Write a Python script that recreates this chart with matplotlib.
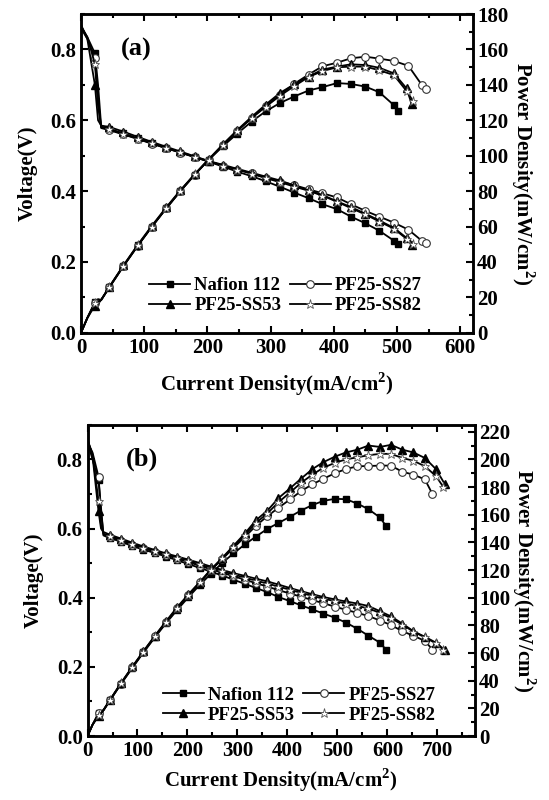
import numpy as np
import matplotlib
matplotlib.use("Agg")
import matplotlib.pyplot as plt
from matplotlib.ticker import MultipleLocator

plt.rcParams['font.family'] = ['Liberation Serif', 'DejaVu Serif']
plt.rcParams['font.weight'] = 'bold'
plt.rcParams['axes.labelweight'] = 'bold'
plt.rcParams['mathtext.fontset'] = 'custom'
plt.rcParams['mathtext.rm'] = 'Liberation Serif:bold'
plt.rcParams['mathtext.bf'] = 'Liberation Serif:bold'

# ---- panel (a) data: current density (mA/cm2), voltage (V), power (mW/cm2)
ia_base = [0, 10, 22, 27, 32, 45, 67, 90, 112, 135, 157, 180, 202, 225, 247,
           270, 292, 315, 337, 360, 382, 405, 427, 450, 472, 495]

a_nafion_i = ia_base + [502]
a_nafion_v = [0.865, 0.835, 0.789, 0.700, 0.582, 0.576, 0.563, 0.549, 0.535,
              0.521, 0.509, 0.496, 0.483, 0.469, 0.455, 0.442, 0.428, 0.412,
              0.396, 0.380, 0.363, 0.349, 0.328, 0.309, 0.288, 0.260, 0.250]
a_nafion_p = [0, 8.4, 17.3, 19.0, 18.6, 25.9, 37.7, 49.4, 59.9, 70.3, 79.9,
              89.3, 97.6, 105.5, 112.4, 119.3, 125.0, 129.8, 133.4, 136.8,
              138.7, 141.0, 140.5, 139.0, 135.8, 128.5, 125.5]

a_ss27_i = ia_base + [518, 539, 545]
a_ss27_v = [0.860, 0.830, 0.775, 0.660, 0.578, 0.572, 0.560, 0.547, 0.534,
            0.521, 0.509, 0.496, 0.484, 0.472, 0.461, 0.450, 0.438, 0.427,
            0.417, 0.405, 0.394, 0.382, 0.363, 0.344, 0.328, 0.311, 0.291,
            0.260, 0.253]
a_ss27_p = [0, 8.3, 17.0, 17.8, 18.5, 25.7, 37.5, 49.2, 59.8, 70.3, 79.9,
            89.3, 97.8, 106.2, 113.9, 121.5, 127.9, 134.5, 140.5, 145.8,
            150.5, 152.5, 155.0, 155.9, 154.8, 153.5, 150.7, 140.0, 137.8]

a_ss53_i = ia_base + [515, 523]
a_ss53_v = [0.870, 0.830, 0.700, 0.600, 0.585, 0.581, 0.568, 0.553, 0.539,
            0.525, 0.512, 0.498, 0.485, 0.474, 0.463, 0.452, 0.441, 0.430,
            0.416, 0.402, 0.389, 0.371, 0.355, 0.336, 0.317, 0.296, 0.268,
            0.247]
a_ss53_p = [0, 8.3, 15.4, 16.2, 18.7, 26.1, 38.0, 49.8, 60.4, 70.9, 80.4,
            89.6, 98.0, 106.6, 114.4, 122.0, 128.8, 135.5, 140.2, 144.7,
            148.6, 150.3, 151.6, 151.2, 149.6, 146.5, 138.0, 129.2]

a_ss82_i = ia_base + [515, 525]
a_ss82_v = [0.865, 0.835, 0.760, 0.640, 0.580, 0.574, 0.561, 0.548, 0.535,
            0.522, 0.510, 0.497, 0.484, 0.472, 0.461, 0.449, 0.437, 0.425,
            0.413, 0.401, 0.387, 0.370, 0.352, 0.334, 0.314, 0.294, 0.265,
            0.250]
a_ss82_p = [0, 8.4, 16.7, 17.3, 18.6, 25.8, 37.6, 49.3, 59.9, 70.5, 80.1,
            89.5, 97.8, 106.2, 113.9, 121.2, 127.6, 133.9, 139.2, 144.4,
            147.8, 149.9, 150.3, 150.3, 148.2, 145.5, 136.5, 131.0]

# ---- panel (b) data
ib_base = [0, 10, 22, 27, 32, 45, 67, 90, 112, 135, 157, 180, 202, 225, 247,
           270, 292, 315, 337, 360, 382, 405, 427, 450, 472, 495, 517, 540,
           562, 585]

b_nafion_i = ib_base + [597]
b_nafion_v = [0.850, 0.800, 0.740, 0.660, 0.580, 0.572, 0.562, 0.549, 0.539,
              0.529, 0.519, 0.508, 0.497, 0.486, 0.475, 0.464, 0.452, 0.440,
              0.428, 0.416, 0.402, 0.390, 0.378, 0.366, 0.354, 0.342, 0.328,
              0.310, 0.290, 0.270, 0.250]
b_nafion_p = [0, 8.0, 16.3, 17.8, 18.6, 25.7, 37.6, 49.4, 60.4, 71.4, 81.5,
              91.4, 100.4, 109.4, 117.3, 125.3, 132.0, 138.6, 144.2, 149.8,
              154.0, 158.5, 163.0, 167.0, 170.0, 171.5, 171.2, 168.0, 164.0,
              158.0, 152.0]

b_ss27_i = ib_base + [607, 630, 652, 675, 690]
b_ss27_v = [0.850, 0.820, 0.750, 0.650, 0.582, 0.575, 0.565, 0.553, 0.543,
            0.533, 0.523, 0.513, 0.503, 0.492, 0.482, 0.472, 0.462, 0.452,
            0.442, 0.432, 0.422, 0.412, 0.403, 0.393, 0.384, 0.374, 0.365,
            0.356, 0.347, 0.334, 0.321, 0.303, 0.290, 0.275, 0.250]
b_ss27_p = [0, 8.2, 16.5, 17.6, 18.6, 25.9, 37.9, 49.8, 60.8, 72.0, 82.1,
            92.3, 102.0, 111.0, 120.0, 128.0, 136.0, 144.0, 152.0, 159.0,
            165.0, 171.0, 177.0, 182.0, 186.0, 190.0, 193.0, 195.0, 195.2,
            195.5, 195.5, 191.0, 189.0, 185.5, 175.0]

b_ss53_i = ib_base + [607, 630, 652, 675, 697, 715]
b_ss53_v = [0.860, 0.810, 0.650, 0.600, 0.590, 0.582, 0.571, 0.559, 0.548,
            0.538, 0.528, 0.519, 0.510, 0.500, 0.490, 0.480, 0.471, 0.463,
            0.455, 0.447, 0.438, 0.428, 0.419, 0.410, 0.402, 0.395, 0.389,
            0.383, 0.376, 0.361, 0.346, 0.325, 0.303, 0.287, 0.270, 0.248]
b_ss53_p = [0, 8.1, 14.3, 16.2, 18.9, 26.2, 38.3, 50.3, 61.4, 72.6, 82.9,
            93.4, 102.5, 111.5, 120.5, 129.0, 137.5, 146.5, 156.0, 163.0,
            172.0, 179.0, 186.0, 193.0, 198.0, 202.0, 205.0, 207.0, 210.0,
            209.0, 210.5, 207.0, 205.0, 201.0, 193.0, 182.0]

b_ss82_i = ib_base + [607, 630, 652, 675, 697, 712]
b_ss82_v = [0.855, 0.815, 0.680, 0.610, 0.585, 0.578, 0.568, 0.556, 0.545,
            0.535, 0.525, 0.515, 0.506, 0.496, 0.486, 0.476, 0.467, 0.458,
            0.449, 0.441, 0.432, 0.423, 0.414, 0.405, 0.397, 0.390, 0.383,
            0.376, 0.369, 0.356, 0.341, 0.322, 0.302, 0.285, 0.268, 0.250]
b_ss82_p = [0, 8.1, 15.0, 16.5, 18.7, 26.0, 38.1, 50.0, 61.0, 72.2, 82.4,
            92.7, 102.0, 111.0, 120.0, 128.5, 137.0, 145.5, 154.0, 161.0,
            169.0, 176.0, 183.0, 189.0, 194.0, 197.5, 200.0, 201.5, 203.0,
            204.0, 204.0, 201.0, 199.0, 195.0, 188.0, 180.0]

labels = ['Nafion 112', 'PF25-SS27', 'PF25-SS53', 'PF25-SS82']
styles = [
    dict(marker='s', mfc='black', mec='black', ms=4.5),
    dict(marker='o', mfc='white', mec='#333333', ms=5.5, mew=0.8),
    dict(marker='^', mfc='black', mec='black', ms=5.5),
    dict(marker='*', mfc='white', mec='#555555', ms=6.5, mew=0.6),
]

FS_TICK = 15
FS_LAB = 15
FS_LEG = 13.5


def draw_panel(rect, tag, series, xmax, pmax, pticks, leg_anchor, xpad):
    ax = fig.add_axes(rect)
    ax2 = ax.twinx()
    handles = []
    for (cur, volt, powr), lab, st in zip(series, labels, styles):
        # no markers on the first few points of the activation drop
        marks = [2] + list(range(5, len(cur)))
        h, = ax.plot(cur, volt, '-', color='black', lw=1.3, label=lab,
                     markevery=marks, **st)
        ax2.plot(cur, powr, '-', color='black', lw=1.3, markevery=marks, **st)
        handles.append(h)

    ax.set_xlim(0, xmax)
    ax.set_ylim(0, 0.9)
    ax2.set_ylim(0, pmax)
    ax.xaxis.set_major_locator(MultipleLocator(100))
    ax.xaxis.set_minor_locator(MultipleLocator(50))
    ax.yaxis.set_major_locator(MultipleLocator(0.2))
    ax.yaxis.set_minor_locator(MultipleLocator(0.1))
    ax2.set_yticks(pticks)
    ax2.yaxis.set_minor_locator(MultipleLocator(10))
    ax.yaxis.set_major_formatter(plt.FormatStrFormatter('%.1f'))

    ax.tick_params(which='both', direction='in', top=True, right=False,
                   labelsize=FS_TICK, width=1.5)
    ax.tick_params(which='major', length=5)
    ax.tick_params(which='minor', length=3)
    ax2.tick_params(which='both', direction='in', labelsize=FS_TICK, width=1.5,
                    pad=3)
    ax2.tick_params(which='major', length=5)
    ax2.tick_params(which='minor', length=3)
    for a in (ax, ax2):
        for s in a.spines.values():
            s.set_linewidth(1.8)

    ax.set_xlabel('Current Density(mA/cm$^{2}$)', fontsize=FS_LAB,
                  labelpad=xpad)
    ax.set_ylabel('Voltage(V)', fontsize=FS_LAB, labelpad=9)
    ax2.set_ylabel('Power Density(mW/cm$^{2}$)', fontsize=FS_LAB,
                   rotation=270, labelpad=20)
    ax.text(0.14, 0.89, tag, transform=ax.transAxes, fontsize=19,
            ha='center', va='center')
    # legend filled column-wise: rows read Nafion/SS27 and SS53/SS82
    order = [0, 2, 1, 3]
    ax.legend(handles=[handles[k] for k in order], ncol=2, frameon=False,
              fontsize=FS_LEG, loc='lower left', bbox_to_anchor=leg_anchor,
              handlelength=2.2, handletextpad=0.2, columnspacing=0.45,
              labelspacing=0.15, borderaxespad=0.0)
    return ax, ax2


fig = plt.figure(figsize=(5.49, 8.0), dpi=100)

draw_panel([0.1475, 0.584, 0.714, 0.3985], '(a)',
           [(a_nafion_i, a_nafion_v, a_nafion_p),
            (a_ss27_i, a_ss27_v, a_ss27_p),
            (a_ss53_i, a_ss53_v, a_ss53_p),
            (a_ss82_i, a_ss82_v, a_ss82_p)],
           620, 180, np.arange(0, 181, 20), (0.155, 0.035), 9)

draw_panel([0.1594, 0.08, 0.7056, 0.389], '(b)',
           [(b_nafion_i, b_nafion_v, b_nafion_p),
            (b_ss27_i, b_ss27_v, b_ss27_p),
            (b_ss53_i, b_ss53_v, b_ss53_p),
            (b_ss82_i, b_ss82_v, b_ss82_p)],
           775, 225, np.arange(0, 221, 20), (0.175, 0.015), 4)

fig.savefig('out.png', dpi=100)
